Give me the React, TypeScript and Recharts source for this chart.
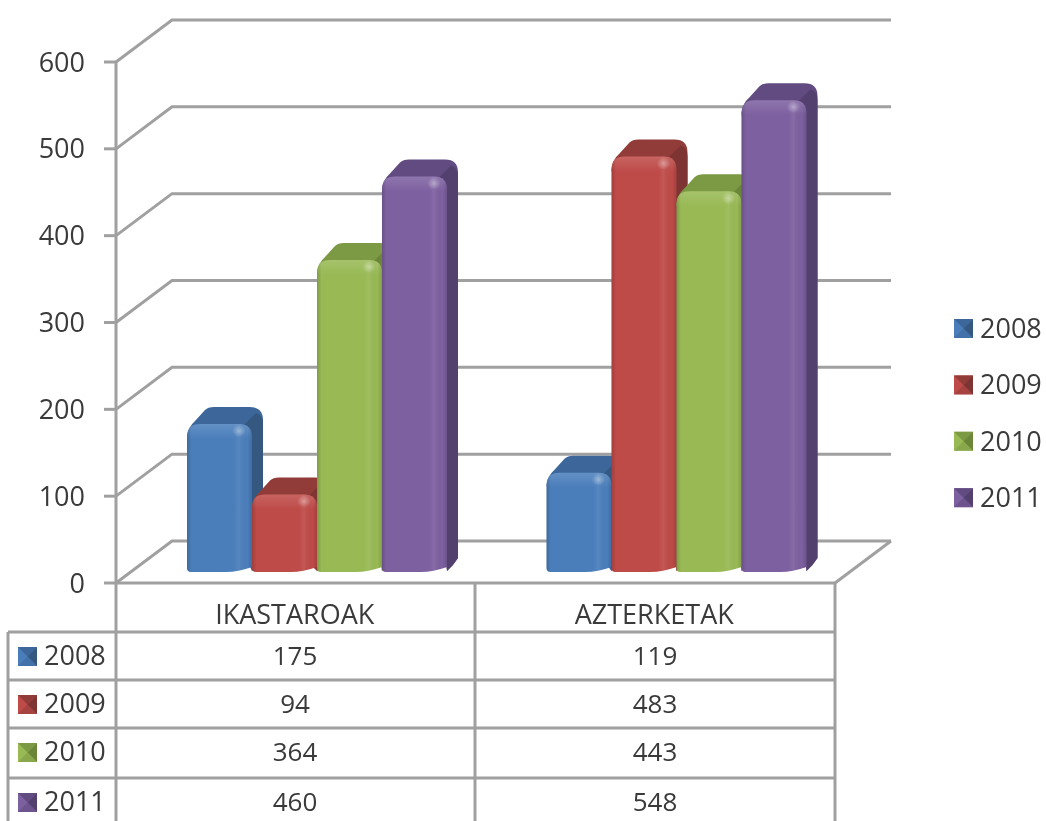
import { BarChart, Bar, XAxis, YAxis, CartesianGrid, Legend } from "recharts";

const categories = ["IKASTAROAK", "AZTERKETAK"];
const seriesNames = ["2008", "2009", "2010", "2011"];
const values2008 = [175, 119];
const values2009 = [94, 483];
const values2010 = [364, 443];
const values2011 = [460, 548];
const allValues = [values2008, values2009, values2010, values2011];
const yTicks = [0, 100, 200, 300, 400, 500, 600];

const frontColors = ["#4A7EBB", "#BE4B48", "#98B954", "#7D60A0"];
const sideColors = ["#34587F", "#7E3432", "#6B8539", "#54406F"];
const topColors = ["#3D679A", "#923C3A", "#7B9A43", "#614B80"];

const data = categories.map((name, i) => ({
  name,
  s2008: values2008[i],
  s2009: values2009[i],
  s2010: values2010[i],
  s2011: values2011[i],
}));

const GRID = "#A0A0A0";
const TEXT = "#3A3A3A";
const FONT = "'Open Sans', sans-serif";
const FS = 27;

// depth of the fake 3d wall
const WALL_X = 56;
const WALL_Y = 42;

function wallLine(props: any) {
  const { x1, y1, x2, index } = props;
  const isFloor = y1 > 570;
  return (
    <g key={index}>
      <polyline
        points={`${x1},${y1} ${x1 + WALL_X},${y1 - WALL_Y} ${x2 + WALL_X},${y1 - WALL_Y}`}
        fill="none"
        stroke={GRID}
        strokeWidth={3}
      />
      {isFloor && (
        <line x1={x2} y1={y1} x2={x2 + WALL_X} y2={y1 - WALL_Y} stroke={GRID} strokeWidth={3} />
      )}
    </g>
  );
}

function Bar3D(props: any) {
  const { width: w, fill, colorIndex } = props;
  const x = props.x + 21;
  const bottom = props.y + props.height - 12;
  const fTop = props.y - 7;
  const bTop = props.y - 24;
  const dx = 11;
  const dy = 13;
  const r = 13;

  const hull = `M ${x} ${fTop + r} Q ${x + 1} ${fTop + 3} ${x + 8} ${fTop - 3} L ${x + 18} ${bTop + 3} Q ${x + 21} ${bTop} ${x + 27} ${bTop}
    L ${x + w + dx - r} ${bTop} Q ${x + w + dx} ${bTop} ${x + w + dx} ${bTop + r}
    L ${x + w + dx} ${bottom - dy} Q ${x + w + 6} ${bottom - 5} ${x + w} ${bottom} Z`;
  const side = `M ${x + w - 8} ${fTop + 1} L ${x + w + dx - 7} ${bTop + 6} Q ${x + w + dx} ${bTop + 8} ${x + w + dx} ${bTop + r + 4}
    L ${x + w + dx} ${bottom - dy} Q ${x + w + 6} ${bottom - 5} ${x + w} ${bottom} Z`;
  const front = `M ${x} ${fTop + r} Q ${x} ${fTop} ${x + r} ${fTop} L ${x + w - r} ${fTop}
    Q ${x + w} ${fTop} ${x + w} ${fTop + r} L ${x + w} ${bottom - 4} Q ${x + w - 14} ${bottom + 1} ${x + w - 26} ${bottom + 1}
    L ${x + 4} ${bottom + 1} Q ${x} ${bottom + 1} ${x} ${bottom - 3} Z`;
  const bevel = `M ${x} ${fTop + r} Q ${x} ${fTop} ${x + r} ${fTop} L ${x + w - r} ${fTop}
    Q ${x + w} ${fTop} ${x + w} ${fTop + r} L ${x + w} ${fTop + 15} L ${x} ${fTop + 15} Z`;

  return (
    <g>
      <path d={hull} fill={topColors[colorIndex]} />
      <path d={side} fill={sideColors[colorIndex]} />
      <path d={front} fill={fill} />
      <path d={front} fill="url(#frontShade)" />
      <path d={bevel} fill="url(#topBevel)" />
      <ellipse cx={x + w - 13} cy={fTop + 7} rx={7} ry={6} fill="url(#spot)" />
    </g>
  );
}

function KeyIcon({ x, y, color, side, top }: any) {
  const s = 19;
  const cx = x + s / 2;
  const cy = y + s / 2;
  return (
    <g>
      <rect x={x} y={y} width={s} height={s} fill={color} />
      <polygon points={`${x},${y} ${x + s},${y} ${cx},${cy}`} fill={top} />
      <polygon points={`${x + s},${y} ${x + s},${y + s} ${cx},${cy}`} fill={side} />
      <polygon points={`${x},${y + s} ${x + s},${y + s} ${cx},${cy}`} fill={top} opacity={0.55} />
    </g>
  );
}

function LegendBox() {
  return (
    <svg width={96} height={210} style={{ display: "block" }}>
      {seriesNames.map((name, i) => (
        <g key={name}>
          <KeyIcon x={4} y={10 + i * 56.4} color={frontColors[i]} side={sideColors[i]} top={topColors[i]} />
          <text x={30} y={29 + i * 56.4} fontSize={FS} fontFamily={FONT} fill={TEXT}>
            {name}
          </text>
        </g>
      ))}
    </svg>
  );
}

function CategoryTick({ x, payload }: any) {
  return (
    <text x={x - 1} y={624} textAnchor="middle" fontSize={FS} fontFamily={FONT} fill={TEXT}>
      {payload.value}
    </text>
  );
}

const rowLines = [632, 680, 728, 778];
const columnCenters = [295, 655];

function DataTable() {
  return (
    <svg width={1046} height={821} style={{ position: "absolute", left: 0, top: 0, pointerEvents: "none" }}>
      <defs>
        <linearGradient id="frontShade" x1="0" y1="0" x2="1" y2="0">
          <stop offset="0" stopColor="#000" stopOpacity={0.16} />
          <stop offset="0.07" stopColor="#000" stopOpacity={0} />
          <stop offset="0.72" stopColor="#fff" stopOpacity={0} />
          <stop offset="0.8" stopColor="#fff" stopOpacity={0.07} />
          <stop offset="0.93" stopColor="#000" stopOpacity={0} />
          <stop offset="1" stopColor="#000" stopOpacity={0.14} />
        </linearGradient>
        <linearGradient id="topBevel" x1="0" y1="0" x2="0" y2="1">
          <stop offset="0" stopColor="#fff" stopOpacity={0.14} />
          <stop offset="1" stopColor="#fff" stopOpacity={0} />
        </linearGradient>
        <radialGradient id="spot">
          <stop offset="0" stopColor="#fff" stopOpacity={0.35} />
          <stop offset="1" stopColor="#fff" stopOpacity={0} />
        </radialGradient>
      </defs>
      {rowLines.map((y) => (
        <line key={y} x1={8} y1={y} x2={835} y2={y} stroke={GRID} strokeWidth={3} />
      ))}
      <line x1={8} y1={632} x2={8} y2={821} stroke={GRID} strokeWidth={3} />
      <line x1={116} y1={583} x2={116} y2={821} stroke={GRID} strokeWidth={3} />
      <line x1={475} y1={583} x2={475} y2={821} stroke={GRID} strokeWidth={3} />
      <line x1={835} y1={583} x2={835} y2={821} stroke={GRID} strokeWidth={3} />
      {seriesNames.map((name, i) => (
        <g key={name}>
          <KeyIcon x={18} y={rowLines[i] + 15} color={frontColors[i]} side={sideColors[i]} top={topColors[i]} />
          <text x={44} y={rowLines[i] + 33} fontSize={FS} fontFamily={FONT} fill={TEXT}>
            {name}
          </text>
          {allValues[i].map((v, j) => (
            <text
              key={j}
              x={columnCenters[j]}
              y={rowLines[i] + 33}
              textAnchor="middle"
              fontSize={FS - 1}
              fontFamily={FONT}
              fill={TEXT}
            >
              {v}
            </text>
          ))}
        </g>
      ))}
    </svg>
  );
}

export default function App() {
  return (
    <div
      style={{
        position: "absolute",
        left: 0,
        top: 0,
        width: 1046,
        height: 821,
        background: "#fff",
        overflow: "hidden",
        filter: "blur(0.6px)", // the reference is a soft upscaled screenshot
      }}
    >
      <BarChart
        width={1046}
        height={821}
        data={data}
        margin={{ top: 62, right: 115, bottom: 0, left: 0 }}
        barCategoryGap={50}
        barGap={0}
      >
        <CartesianGrid horizontal={wallLine} vertical={false} />
        <XAxis
          dataKey="name"
          height={238}
          axisLine={{ stroke: GRID, strokeWidth: 3 }}
          tickLine={false}
          tick={CategoryTick}
          interval={0}
        />
        <YAxis
          width={116}
          domain={[0, 600]}
          ticks={yTicks}
          axisLine={{ stroke: GRID, strokeWidth: 3 }}
          tickLine={{ stroke: GRID, strokeWidth: 3 }}
          tickSize={12}
          tickMargin={19}
          tick={{ fill: TEXT, fontSize: FS, fontFamily: FONT }}
        />
        <Legend
          layout="vertical"
          align="right"
          verticalAlign="top"
          content={LegendBox}
          wrapperStyle={{ left: 950, top: 309, width: 96 }}
        />
        <Bar dataKey="s2008" name="2008" fill={frontColors[0]} isAnimationActive={false} shape={(p: any) => <Bar3D {...p} colorIndex={0} />} />
        <Bar dataKey="s2009" name="2009" fill={frontColors[1]} isAnimationActive={false} shape={(p: any) => <Bar3D {...p} colorIndex={1} />} />
        <Bar dataKey="s2010" name="2010" fill={frontColors[2]} isAnimationActive={false} shape={(p: any) => <Bar3D {...p} colorIndex={2} />} />
        <Bar dataKey="s2011" name="2011" fill={frontColors[3]} isAnimationActive={false} shape={(p: any) => <Bar3D {...p} colorIndex={3} />} />
      </BarChart>
      <DataTable />
    </div>
  );
}
